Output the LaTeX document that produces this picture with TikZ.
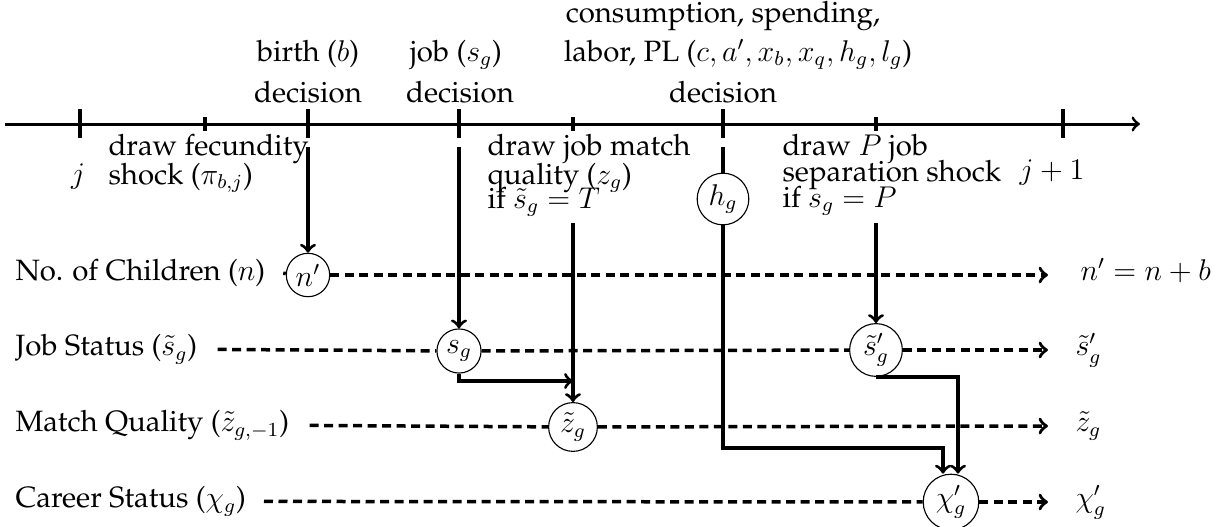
\documentclass[tikz,border=0pt]{standalone}
\usepackage[T1]{fontenc}
\renewcommand{\rmdefault}{ppl}
\usetikzlibrary{calc}
\begin{document}
\begin{tikzpicture}[x=0.4pt,y=-0.4pt,
  every node/.style={font=\fontsize{11.75}{13.5}\selectfont},
  axisline/.style={line width=1.2pt},
  tickmark/.style={line width=1.25pt},
  arr/.style={line width=1.3pt,->},
  solidln/.style={line width=1.3pt},
  dsh/.style={line width=1.4pt,dash pattern=on 3.6pt off 2.2pt},
  st/.style={circle,draw,line width=0.45pt,inner sep=1.5pt,fill=white},
  lab/.style={anchor=mid west,inner sep=0pt},
  txt/.style={anchor=base west,inner sep=0pt},
  ctxt/.style={anchor=base,inner sep=0pt}
]
\useasboundingbox (0,0) rectangle (1216,527);

% timeline
\coordinate (t0) at (5,124);
\coordinate (t1) at (1140,124);
\draw[axisline,->] (t0) -- (t1);
\foreach \x in {80,308,459,723,1063} \draw[tickmark] (\x,109) -- (\x,138);
\foreach \x in {205,573,876} \draw[tickmark] (\x,117) -- (\x,131);

% top labels
\node[ctxt] (cons1) at (723,22) {consumption, spending,};
\node[ctxt] (cons2) at (738,61) {labor, PL ($c,a',x_b,x_q,h_g,l_g$)};
\node[ctxt] (birth) at (308,61) {birth ($b$)};
\node[ctxt] (job) at (456,61) {job ($s_g$)};
\node[ctxt] (dec1) at (308,102) {decision};
\node[ctxt] (dec2) at (460,102) {decision};
\node[ctxt] (dec3) at (723,102) {decision};

% below-axis labels
\node[ctxt] (j) at (78,183) {$j$};
\node[ctxt] (j1) at (1052,179) {$j+1$};
\node[txt] (fec1) at (108,155) {draw fecundity};
\node[txt] (fec2) at (108,184) {shock ($\pi_{b,j}$)};
\node[txt] (jm1) at (487,155) {draw job match};
\node[txt] (jm2) at (487,184) {quality ($z_g$)};
\node[txt] (jm3) at (487,208) {if $\tilde s_g = T$};
\node[txt] (pj1) at (782,155) {draw $P$ job};
\node[txt] (pj2) at (782,181) {separation shock};
\node[txt] (pj3) at (782,207) {if $s_g = P$};

% row labels
\node[lab] (ln) at (15,275) {No. of Children ($n$)};
\node[lab] (ls) at (15,350) {Job Status ($\tilde s_g$)};
\node[lab] (lz) at (15,426) {Match Quality ($\tilde z_{g,-1}$)};
\node[lab] (lc) at (15,502) {Career Status ($\chi_g$)};

\node[lab] (rn) at (1080,275) {$n'=n+b$};
\node[lab] (rs) at (1075,350) {$\tilde s'_g$};
\node[lab] (rz) at (1075,426) {$\tilde z_g$};
\node[lab] (rc) at (1075,502) {$\chi'_g$};

\coordinate (en) at (1048,275);
\coordinate (es) at (1048,350);
\coordinate (ez) at (1048,426);
\coordinate (ec) at (1048,502);

% state circles
\node[st] (np) at (308,275) {$n'$};
\node[st] (sg) at (459,351) {$s_g$};
\node[st] (sp) at (876,350) {$\tilde s'_g$};
\node[st] (zt) at (573,427) {$\tilde z_g$};
\node[st] (chip) at (951,502) {$\chi'_g$};
\node[st] (hg) at (723,199) {$h_g$};

% dashed rows
\draw[dsh] ([xshift=7pt]ln.east) -- (np);
\draw[dsh,->] (np) -- (en);
\draw[dsh] ([xshift=8pt]ls.east) -- (sg);
\draw[dsh] (sg) -- (sp);
\draw[dsh,->] (sp) -- (es);
\draw[dsh] ([xshift=8pt]lz.east) -- (zt);
\draw[dsh,->] (zt) -- (ez);
\draw[dsh] ([xshift=7pt]lc.east) -- (chip);
\draw[dsh,->] (chip) -- (ec);

% vertical connectors
\coordinate (bst) at (308,147);
\coordinate (jst) at (459,147);
\coordinate (hst) at (723,147);
\coordinate (zst) at (573,223);
\coordinate (pst) at (876,223);
\coordinate (zm) at (573,381);
\coordinate (hc) at (723,448);
\draw[arr] (bst) -- (np);
\draw[arr] (jst) -- (sg);
\draw[solidln] (hst) -- (hg);
\draw[arr] (zst) -- (zt);
\draw[arr] (pst) -- (sp);
\draw[arr] (sg.south) |- (zm);
\draw[arr] (hg) -- (hc) -| ([xshift=-3.2pt]chip.north);
\draw[arr] (sp.south) -| ([xshift=2.8pt]chip.north);
\end{tikzpicture}
\end{document}
